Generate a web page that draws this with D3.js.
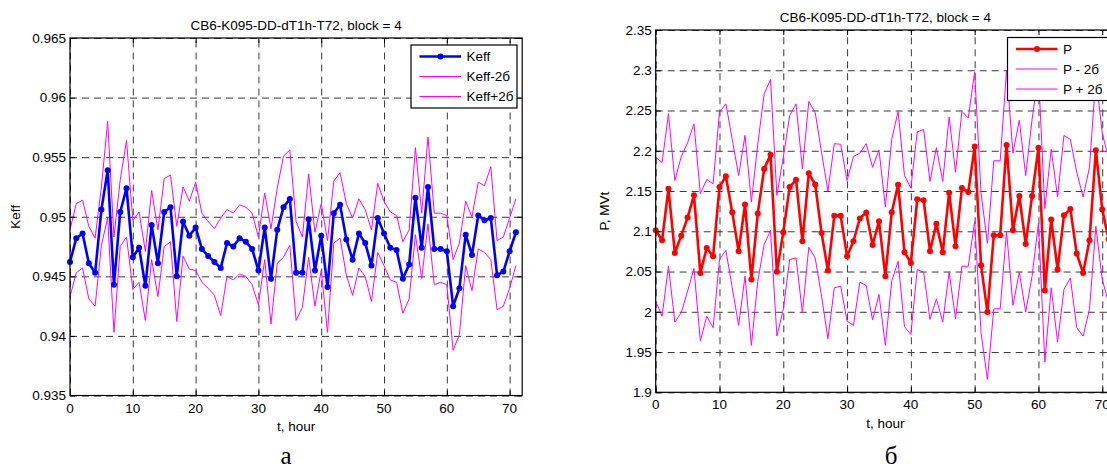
<!DOCTYPE html>
<html>
<head>
<meta charset="utf-8">
<script src="https://cdn.jsdelivr.net/npm/d3@7/dist/d3.min.js"></script>
<style>
  body { margin: 0; background: #fff; }
  svg { display: block; }
  text { font-family: "Liberation Sans", Arial, Helvetica, sans-serif; }
  text.tag { font-family: "Liberation Serif", "Times New Roman", "DejaVu Serif", serif; }
</style>
</head>
<body>
<svg id="fig" width="1107" height="470"></svg>
<script>
// time axis, hours
const hours = [0,1,2,3,4,5,6,7,8,9,10,11,12,13,14,15,16,17,18,19,20,21,22,23,24,25,26,27,28,29,
  30,31,32,33,34,35,36,37,38,39,40,41,42,43,44,45,46,47,48,49,50,51,52,53,54,55,56,57,58,59,
  60,61,62,63,64,65,66,67,68,69,70,71];

// multiplication factor and its 2-sigma band
const keff = [0.9462,0.9482,0.9486,0.9461,0.9453,0.9506,0.9539,0.9443,0.9504,0.9524,
  0.9466,0.9474,0.9442,0.9493,0.9461,0.9504,0.9508,0.9450,0.9496,0.9484,
  0.9491,0.9473,0.9467,0.9462,0.9457,0.9478,0.9475,0.9482,0.9479,0.9473,
  0.9455,0.9491,0.9448,0.9489,0.9508,0.9515,0.9453,0.9453,0.9498,0.9455,
  0.9484,0.9441,0.9503,0.9510,0.9481,0.9464,0.9486,0.9478,0.9459,0.9499,
  0.9486,0.9474,0.9472,0.9448,0.9460,0.9516,0.9474,0.9525,0.9473,0.9473,
  0.9471,0.9425,0.9440,0.9485,0.9468,0.9501,0.9497,0.9499,0.9451,0.9454,
  0.9471,0.9487];
const keffMinus = [0.9433,0.9453,0.9457,0.9431,0.9425,0.9476,0.9499,0.9403,0.9475,0.9483,
  0.9439,0.9445,0.9413,0.9464,0.9433,0.9475,0.9479,0.9412,0.9467,0.9456,
  0.9455,0.9445,0.9440,0.9434,0.9417,0.9450,0.9447,0.9452,0.9450,0.9443,
  0.9426,0.9464,0.9410,0.9461,0.9466,0.9476,0.9413,0.9424,0.9466,0.9425,
  0.9455,0.9403,0.9478,0.9482,0.9451,0.9434,0.9457,0.9450,0.9429,0.9470,
  0.9459,0.9447,0.9445,0.9419,0.9431,0.9485,0.9448,0.9494,0.9443,0.9445,
  0.9443,0.9388,0.9401,0.9459,0.9438,0.9473,0.9470,0.9464,0.9422,0.9425,
  0.9440,0.9459];
const keffPlus = [0.9489,0.9511,0.9514,0.9492,0.9482,0.9525,0.9580,0.9483,0.9531,0.9564,
  0.9497,0.9504,0.9471,0.9522,0.9489,0.9532,0.9535,0.9492,0.9525,0.9513,
  0.9529,0.9503,0.9496,0.9490,0.9499,0.9506,0.9503,0.9510,0.9508,0.9503,
  0.9483,0.9520,0.9490,0.9524,0.9551,0.9556,0.9496,0.9483,0.9536,0.9487,
  0.9511,0.9480,0.9530,0.9537,0.9511,0.9499,0.9515,0.9506,0.9489,0.9528,
  0.9513,0.9504,0.9501,0.9479,0.9489,0.9558,0.9503,0.9567,0.9503,0.9503,
  0.9501,0.9464,0.9478,0.9513,0.9500,0.9529,0.9526,0.9542,0.9480,0.9483,
  0.9499,0.9515];

// block power, MVt, and its 2-sigma band
const power = [2.1012,2.0888,2.1528,2.0731,2.0946,2.1170,2.1446,2.0483,2.0793,2.0690,
  2.1549,2.1684,2.1235,2.0752,2.1332,2.0401,2.1222,2.1773,2.1949,2.0496,
  2.0988,2.1549,2.1639,2.0876,2.1720,2.1581,2.0979,2.0512,2.1194,2.1193,
  2.0690,2.0876,2.1160,2.1234,2.0830,2.1125,2.0442,2.1236,2.1577,2.0740,
  2.0607,2.1397,2.1385,2.0752,2.1095,2.0740,2.1479,2.0814,2.1536,2.1487,
  2.2052,2.0579,1.9996,2.0950,2.0950,2.2072,2.1012,2.1438,2.0843,2.1438,
  2.2039,2.0264,2.1145,2.0525,2.1198,2.1277,2.0723,2.0483,2.0888,2.2006,
  2.1269,2.0900];
const powerMinus = [2.0132,1.9946,2.0566,1.9872,1.9988,2.0256,2.0537,1.9636,1.9946,1.9802,
  2.0649,2.0764,2.0298,1.9831,2.0442,1.9583,2.0380,2.0835,2.1012,1.9698,
  2.0029,2.0649,2.0669,1.9988,2.0802,2.0669,2.0194,1.9665,2.0298,2.0318,
  1.9884,1.9831,2.0368,2.0326,1.9897,2.0215,1.9583,2.0380,2.0628,1.9814,
  1.9719,2.0525,2.0492,1.9905,2.0161,1.9872,2.0492,1.9913,2.0566,2.0566,
  2.1124,1.9740,1.9161,2.0037,2.0037,2.1000,2.0079,2.0492,1.9996,2.0442,
  2.1103,1.9376,2.0298,1.9624,2.0277,2.0421,1.9802,1.9698,2.0029,2.1062,
  2.0401,2.0110];
const powerPlus = [2.1917,2.1855,2.2460,2.1630,2.1925,2.2100,2.2334,2.1467,2.1643,2.1590,
  2.2477,2.2583,2.2141,2.1692,2.2191,2.1365,2.2080,2.2706,2.2886,2.1446,
  2.1917,2.2436,2.2583,2.1774,2.2612,2.2477,2.1978,2.1500,2.2088,2.2080,
  2.1630,2.1929,2.1970,2.2088,2.1794,2.2011,2.1303,2.2141,2.2489,2.1692,
  2.1536,2.2235,2.2264,2.1618,2.2039,2.1618,2.2419,2.1733,2.2489,2.2407,
  2.2980,2.1480,2.0850,2.1876,2.1876,2.3000,2.1970,2.2379,2.1692,2.2387,
  2.2970,2.1283,2.2019,2.1426,2.2191,2.2141,2.1733,2.1426,2.1794,2.2920,
  2.2220,2.1900];

// axis ticks and labels
const hourTicks = [0,10,20,30,40,50,60,70];
const keffTicks = [0.935,0.94,0.945,0.95,0.955,0.96,0.965];
const keffTickLabels = ["0.935","0.94","0.945","0.95","0.955","0.96","0.965"];
const powerTicks = [1.9,1.95,2,2.05,2.1,2.15,2.2,2.25,2.3,2.35];
const powerTickLabels = ["1.9","1.95","2","2.05","2.1","2.15","2.2","2.25","2.3","2.35"];

const titleText = "CB6-K095-DD-dT1h-T72, block = 4";
const xLabel = "t, hour";
const keffLegend = ["Keff", "Keff-2б", "Keff+2б"];
const powerLegend = ["P", "P - 2б", "P + 2б"];

const svg = d3.select("#fig");
const FS = 13.5;

function drawPanel(o) {
  const x = d3.scaleLinear().domain([0, 72]).range([o.left, o.right]);
  const y = d3.scaleLinear().domain([o.yTicks[0], o.yTicks[o.yTicks.length - 1]]).range([o.bottom, o.top]);
  const g = svg.append("g");
  const h = o.bottom - o.top, w = o.right - o.left;

  // dashed grid
  const gridX = g.append("g").attr("transform", `translate(0,${o.bottom})`)
    .call(d3.axisBottom(x).tickValues(hourTicks).tickSize(-h).tickFormat(""));
  const gridY = g.append("g").attr("transform", `translate(${o.left},0)`)
    .call(d3.axisLeft(y).tickValues(o.yTicks).tickSize(-w).tickFormat(""));
  [gridX, gridY].forEach(s => {
    s.select(".domain").remove();
    s.selectAll(".tick line").attr("stroke", "#3a3a3a").attr("stroke-width", 1)
      .attr("stroke-dasharray", "7,5");
  });

  // band lines and the main series
  const line = d3.line().x((d, i) => x(hours[i])).y(d => y(d));
  [o.minus, o.plus].forEach(arr => {
    g.append("path").datum(arr).attr("d", line)
      .attr("fill", "none").attr("stroke", "#ff00ff").attr("stroke-width", 1);
  });
  g.append("path").datum(o.main).attr("d", line)
    .attr("fill", "none").attr("stroke", o.color).attr("stroke-width", 2.6)
    .attr("stroke-linejoin", "round");
  g.selectAll(null).data(o.main).enter().append("circle")
    .attr("cx", (d, i) => x(hours[i])).attr("cy", d => y(d))
    .attr("r", 3).attr("fill", o.color);

  // frame with inward ticks on all sides
  const tickAxes = [
    [d3.axisBottom(x).tickValues(hourTicks), `translate(0,${o.bottom})`],
    [d3.axisTop(x).tickValues(hourTicks), `translate(0,${o.top})`],
    [d3.axisLeft(y).tickValues(o.yTicks), `translate(${o.left},0)`],
    [d3.axisRight(y).tickValues(o.yTicks), `translate(${o.right},0)`]
  ];
  tickAxes.forEach(([ax, tr]) => {
    const s = g.append("g").attr("transform", tr)
      .call(ax.tickSize(-5).tickSizeOuter(0).tickFormat(""));
    s.select(".domain").remove();
    s.selectAll(".tick line").attr("stroke", "#000").attr("stroke-width", 1);
  });
  g.append("rect").attr("x", o.left).attr("y", o.top).attr("width", w).attr("height", h)
    .attr("fill", "none").attr("stroke", "#000").attr("stroke-width", 1.2);

  // tick labels
  g.selectAll(null).data(hourTicks).enter().append("text")
    .attr("x", d => x(d)).attr("y", o.bottom + 17)
    .attr("text-anchor", "middle").attr("font-size", FS).text(d => d);
  g.selectAll(null).data(o.yTicks).enter().append("text")
    .attr("x", o.left - 4).attr("y", d => y(d)).attr("dy", "0.36em")
    .attr("text-anchor", "end").attr("font-size", FS).text((d, i) => o.yTickLabels[i]);

  // titles
  g.append("text").attr("x", (o.left + o.right) / 2).attr("y", o.top - 8)
    .attr("text-anchor", "middle").attr("font-size", FS).text(titleText);
  g.append("text").attr("x", (o.left + o.right) / 2).attr("y", o.bottom + 35.5)
    .attr("text-anchor", "middle").attr("font-size", FS).text(xLabel);
  g.append("text").attr("transform", `translate(${o.yLabelX},${(o.top + o.bottom) / 2}) rotate(-90)`)
    .attr("text-anchor", "middle").attr("font-size", FS).text(o.yLabel);
  g.append("text").attr("class", "tag").attr("x", o.panelX).attr("y", 464)
    .attr("text-anchor", "middle").attr("font-size", 25).text(o.panelTag);

  // legend
  const lg = g.append("g").attr("transform", `translate(${o.legendX},${o.legendY})`);
  lg.append("rect").attr("width", 106).attr("height", 63)
    .attr("fill", "#fff").attr("stroke", "#000").attr("stroke-width", 1.2);
  const rowY = [11.5, 31.5, 51.5];
  o.legend.forEach((name, i) => {
    const c = i === 0 ? o.color : "#ff00ff";
    lg.append("line").attr("x1", 8.5).attr("x2", 50).attr("y1", rowY[i]).attr("y2", rowY[i])
      .attr("stroke", c).attr("stroke-width", i === 0 ? 2.6 : 1.2);
    if (i === 0) lg.append("circle").attr("cx", 29.5).attr("cy", rowY[i]).attr("r", 3).attr("fill", c);
    lg.append("text").attr("x", 55.5).attr("y", rowY[i]).attr("dy", "0.36em")
      .attr("font-size", FS).text(name);
  });
}

drawPanel({
  left: 70, right: 522.2, top: 38, bottom: 395.5,
  yTicks: keffTicks, yTickLabels: keffTickLabels,
  main: keff, minus: keffMinus, plus: keffPlus, color: "#0000ff",
  yLabel: "Keff", yLabelX: 20, legend: keffLegend, legendX: 411, legendY: 45,
  panelTag: "а", panelX: 286
});

drawPanel({
  left: 655.7, right: 1115, top: 30, bottom: 392.3,
  yTicks: powerTicks, yTickLabels: powerTickLabels,
  main: power, minus: powerMinus, plus: powerPlus, color: "#ff0000",
  yLabel: "P, MVt", yLabelX: 609, legend: powerLegend, legendX: 1007.5, legendY: 37.5,
  panelTag: "б", panelX: 891
});
</script>
</body>
</html>
